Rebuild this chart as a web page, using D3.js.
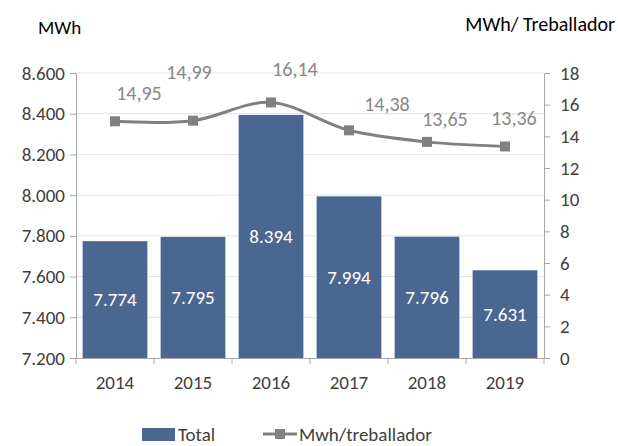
<!DOCTYPE html>
<html>
<head>
<meta charset="utf-8">
<script src="https://cdn.jsdelivr.net/npm/d3@7"></script>
<style>
  body { margin: 0; background: #fff; }
  svg { font-family: Carlito, Lato, "Open Sans", sans-serif; }
</style>
</head>
<body>
<div id="chart"></div>
<script>
// data
const years = ["2014", "2015", "2016", "2017", "2018", "2019"];
const totalMWh = [7774, 7795, 8394, 7994, 7796, 7631];
const mwhPerWorker = [14.95, 14.99, 16.14, 14.38, 13.65, 13.36];
const leftTicks = [7200, 7400, 7600, 7800, 8000, 8200, 8400, 8600];
const rightTicks = [0, 2, 4, 6, 8, 10, 12, 14, 16, 18];

// manual label nudges for the line labels (layout, not data)
const labelShift = [[24, -28], [-4, -49], [24, -33], [38, -26], [18, -23], [9, -28]];

const width = 618;
const height = 446;
const margin = { top: 73, right: 74, bottom: 88, left: 76 };

const cat = d3.formatLocale({ decimal: ",", thousands: ".", grouping: [3], currency: ["", ""] });
const fmtInt = cat.format(",");
const fmtDec = cat.format(",.2f");

const barColor = "#4a6792";
const lineColor = "#808080";
const textColor = "#404040";
const axisColor = "#a6a6a6";

const data = years.map((y, i) => ({ year: y, total: totalMWh[i], rate: mwhPerWorker[i] }));

const svg = d3.select("#chart").append("svg")
  .attr("width", width)
  .attr("height", height);

const x = d3.scaleBand()
  .domain(years)
  .range([margin.left, width - margin.right])
  .paddingInner(0.17)
  .paddingOuter(0.085);

const yL = d3.scaleLinear()
  .domain([7200, 8600])
  .range([height - margin.bottom, margin.top]);

const yR = d3.scaleLinear()
  .domain([0, 18])
  .range([height - margin.bottom, margin.top]);

// gridlines
svg.append("g")
  .selectAll("line")
  .data(leftTicks.slice(1))
  .enter()
  .append("line")
  .attr("x1", margin.left)
  .attr("x2", width - margin.right)
  .attr("y1", (d) => yL(d))
  .attr("y2", (d) => yL(d))
  .attr("stroke", "#e3e3e3")
  .attr("stroke-width", 1);

// bars
svg.selectAll(".bar")
  .data(data)
  .enter()
  .append("rect")
  .attr("class", "bar")
  .attr("x", (d) => x(d.year))
  .attr("y", (d) => yL(d.total))
  .attr("width", x.bandwidth())
  .attr("height", (d) => yL(7200) - yL(d.total))
  .attr("fill", barColor);

// bar value labels (centred)
svg.selectAll(".barLabel")
  .data(data)
  .enter()
  .append("text")
  .attr("class", "barLabel")
  .attr("x", (d) => x(d.year) + x.bandwidth() / 2)
  .attr("y", (d) => (yL(d.total) + yL(7200)) / 2)
  .attr("text-anchor", "middle")
  .attr("dominant-baseline", "central")
  .attr("fill", "#fff")
  .attr("font-size", 19)
  .text((d) => fmtInt(d.total));

// axes
const styleAxis = (g) => {
  g.attr("font-family", null);
  g.select(".domain").attr("stroke", axisColor);
  g.selectAll(".tick line").attr("stroke", axisColor);
  g.selectAll(".tick text").attr("fill", textColor).attr("font-size", 19);
};

svg.append("g")
  .attr("transform", `translate(${margin.left},0)`)
  .call(d3.axisLeft(yL).tickValues(leftTicks).tickFormat(fmtInt).tickSizeOuter(0).tickSize(6).tickPadding(5))
  .call(styleAxis);

svg.append("g")
  .attr("transform", `translate(${width - margin.right},0)`)
  .call(d3.axisRight(yR).tickValues(rightTicks).tickSizeOuter(0).tickSize(6).tickPadding(10))
  .call(styleAxis);

const xAxis = svg.append("g")
  .attr("transform", `translate(0,${height - margin.bottom})`)
  .call(d3.axisBottom(x).tickSize(0).tickPadding(18))
  .call(styleAxis);

// category boundary ticks
const step = x.step();
xAxis.selectAll(".sep")
  .data(d3.range(years.length + 1))
  .enter()
  .append("line")
  .attr("class", "sep")
  .attr("x1", (i) => margin.left + i * step)
  .attr("x2", (i) => margin.left + i * step)
  .attr("y1", 0)
  .attr("y2", 6)
  .attr("stroke", axisColor);

// line series
const line = d3.line()
  .x((d) => x(d.year) + x.bandwidth() / 2)
  .y((d) => yR(d.rate))
  .curve(d3.curveCardinal.tension(0));

svg.append("path")
  .datum(data)
  .attr("d", line)
  .attr("fill", "none")
  .attr("stroke", lineColor)
  .attr("stroke-width", 3);

svg.selectAll(".marker")
  .data(data)
  .enter()
  .append("rect")
  .attr("class", "marker")
  .attr("x", (d) => x(d.year) + x.bandwidth() / 2 - 5)
  .attr("y", (d) => yR(d.rate) - 5)
  .attr("width", 10)
  .attr("height", 10)
  .attr("fill", lineColor);

svg.selectAll(".rateLabel")
  .data(data)
  .enter()
  .append("text")
  .attr("class", "rateLabel")
  .attr("x", (d, i) => x(d.year) + x.bandwidth() / 2 + labelShift[i][0])
  .attr("y", (d, i) => yR(d.rate) + labelShift[i][1])
  .attr("text-anchor", "middle")
  .attr("dominant-baseline", "central")
  .attr("fill", "#888")
  .attr("font-size", 20)
  .text((d) => fmtDec(d.rate));

// axis titles
svg.append("text")
  .attr("x", 38)
  .attr("y", 27)
  .attr("dominant-baseline", "central")
  .attr("fill", "#000")
  .attr("font-size", 19)
  .text("MWh");

svg.append("text")
  .attr("x", 615)
  .attr("y", 24)
  .attr("text-anchor", "end")
  .attr("dominant-baseline", "central")
  .attr("fill", "#000")
  .attr("font-size", 20)
  .text("MWh/ Treballador");

// legend
const legend = svg.append("g").attr("transform", "translate(0,434)");
legend.append("rect")
  .attr("x", 142).attr("y", -6).attr("width", 33).attr("height", 13)
  .attr("fill", barColor);
legend.append("text")
  .attr("x", 178).attr("y", 0)
  .attr("dominant-baseline", "central")
  .attr("fill", textColor).attr("font-size", 19)
  .text("Total");
legend.append("line")
  .attr("x1", 263).attr("x2", 297).attr("y1", 0).attr("y2", 0)
  .attr("stroke", lineColor).attr("stroke-width", 3);
legend.append("rect")
  .attr("x", 275).attr("y", -5).attr("width", 10).attr("height", 10)
  .attr("fill", lineColor);
legend.append("text")
  .attr("x", 299).attr("y", 0)
  .attr("dominant-baseline", "central")
  .attr("fill", textColor).attr("font-size", 19)
  .text("Mwh/treballador");
</script>
</body>
</html>
